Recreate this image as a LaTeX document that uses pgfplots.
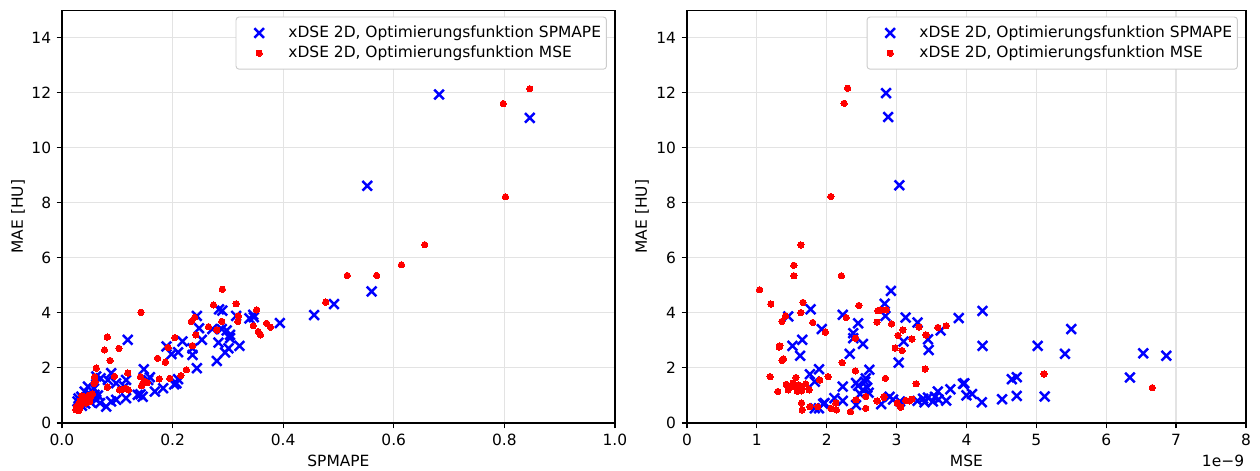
\documentclass[border=0pt]{standalone}
\usepackage{pgfplots}
\pgfplotsset{compat=1.18}
\usepackage{fontspec}
\setmainfont{DejaVu Sans}
\pgfplotsset{
  myaxis/.style={
    scale only axis,
    height=267pt,
    ymin=0, ymax=15,
    ytick={0,2,...,14},
    grid=major,
    major grid style={line width=0.8pt, draw=black!11},
    axis line style={line width=1pt},
    tick align=outside,
    tick pos=left,
    major tick length=3.5pt,
    major tick style={line width=0.8pt, black},
    /pgf/number format/assume math mode=true,
    tick label style={font=\fontsize{10}{12}\selectfont},
    label style={font=\fontsize{10}{12}\selectfont},
    legend style={at={(1,1)}, anchor=north east, xshift=-5.2pt, yshift=-4pt,
      draw=black!20, line width=0.6pt, rounded corners=2pt,
      inner xsep=1.5pt, inner ysep=3.8pt, row sep=0pt,
      font=\fontsize{10}{12}\selectfont,
      cells={anchor=west, inner ysep=1.6pt}},
    legend image code/.code={\path (0pt,0pt) (28.8pt,0pt); \draw[##1] plot coordinates {(12.7pt,0pt)};},
  },
  bx/.style={only marks, mark=x, mark size=4.4pt, draw=blue, line width=1.6pt},
  rd/.style={only marks, mark=*, mark size=2.05pt, draw=red, fill=red, line width=0pt},
}
\begin{document}
\begin{tikzpicture}[font=\fontsize{10}{12}\selectfont]
\begin{axis}[myaxis, at={(40.1pt,31.1pt)}, anchor=south west, width=357.9pt,
  xmin=0, xmax=1, xtick={0,0.2,...,1.0},
  xticklabel style={/pgf/number format/.cd, fixed, fixed zerofill, precision=1},
  xlabel={SPMAPE}, ylabel={MAE [HU]},
  x label style={at={(axis description cs:0.5,-0.092)}, anchor=center},
  y label style={at={(axis description cs:-0.0796,0.5)}, anchor=center}]
\addplot[bx] coordinates {
(0.682,11.94) (0.846,11.09) (0.552,8.62) (0.560,4.78) (0.492,4.32) (0.456,3.92)
(0.394,3.63) (0.347,3.84) (0.339,3.80) (0.346,3.93) (0.315,3.89) (0.321,2.80)
(0.304,3.20) (0.304,3.08) (0.298,3.36) (0.289,3.41) (0.283,2.92) (0.301,2.71)
(0.295,2.56) (0.280,2.25) (0.284,4.13) (0.290,4.08) (0.272,3.41) (0.253,3.02)
(0.248,3.44) (0.244,3.89) (0.244,1.99) (0.236,2.71) (0.236,2.47) (0.218,2.96)
(0.210,2.57) (0.198,2.50) (0.189,2.78) (0.210,1.59) (0.207,1.44) (0.203,1.40)
(0.183,1.26) (0.168,1.14) (0.159,1.66) (0.148,1.95) (0.146,0.95) (0.137,1.02)
(0.156,1.56) (0.119,3.02) (0.116,1.56) (0.113,1.32) (0.116,0.90) (0.098,1.44)
(0.098,0.84) (0.089,1.81) (0.089,0.78) (0.083,1.56) (0.080,0.59) (0.062,1.69)
(0.062,0.84) (0.059,1.02) (0.058,1.25) (0.047,1.32) (0.041,1.14) (0.035,0.95)
(0.030,0.89) (0.032,0.71) (0.038,0.80) (0.044,0.92) (0.050,1.05) (0.052,0.75)
(0.036,0.62) (0.042,0.70) (0.055,0.95) (0.028,0.78) (0.065,1.00) (0.070,1.62)
(0.142,1.04) (0.069,0.72)
};
\addlegendentry{xDSE 2D, Optimierungsfunktion SPMAPE}
\addplot[rd] coordinates {
(0.846,12.15) (0.798,11.61) (0.802,8.22) (0.656,6.48) (0.614,5.75) (0.516,5.36)
(0.569,5.36) (0.477,4.39) (0.290,4.86) (0.274,4.29) (0.315,4.33) (0.352,4.11)
(0.319,3.89) (0.318,3.69) (0.289,3.69) (0.240,3.84) (0.234,3.69) (0.265,3.50)
(0.280,3.38) (0.346,3.53) (0.355,3.32) (0.359,3.20) (0.370,3.62) (0.377,3.48)
(0.242,3.20) (0.236,2.81) (0.204,3.10) (0.192,2.74) (0.173,2.35) (0.187,2.21)
(0.225,1.93) (0.215,1.72) (0.195,1.62) (0.176,1.60) (0.143,4.02) (0.082,3.12)
(0.077,2.65) (0.103,2.71) (0.087,2.27) (0.062,1.99) (0.059,1.68) (0.060,1.50)
(0.058,1.44) (0.095,1.69) (0.119,1.81) (0.082,1.30) (0.104,1.20) (0.110,1.22)
(0.115,1.25) (0.120,1.20) (0.142,1.68) (0.146,1.44) (0.150,1.50) (0.144,1.35)
(0.154,1.46) (0.025,0.48) (0.027,0.55) (0.028,0.62) (0.030,0.70) (0.032,0.52)
(0.033,0.80) (0.035,0.66) (0.037,0.88) (0.038,0.74) (0.040,0.95) (0.042,0.82)
(0.044,0.72) (0.046,0.90) (0.048,1.00) (0.050,0.78) (0.052,0.95) (0.055,1.05)
(0.026,0.60) (0.030,0.45) (0.036,0.98)
};
\addlegendentry{xDSE 2D, Optimierungsfunktion MSE}
\end{axis}
\begin{axis}[myaxis, name=R, at={(444.6pt,31.1pt)}, anchor=south west, width=361.8pt,
  xmin=0, xmax=8, xtick={0,1,...,8},
  xlabel={MSE}, ylabel={MAE [HU]},
  x label style={at={(axis description cs:0.5,-0.092)}, anchor=center},
  y label style={at={(axis description cs:-0.0805,0.5)}, anchor=center}]
\addplot[bx] coordinates {
(2.85,11.99) (2.88,11.12) (3.04,8.64) (2.92,4.80) (2.83,4.33) (2.84,3.89)
(3.13,3.83) (3.30,3.65) (3.89,3.81) (4.23,4.07) (4.23,2.80) (5.02,2.80)
(5.50,3.41) (5.41,2.51) (6.53,2.53) (6.86,2.44) (6.34,1.65) (4.65,1.59)
(4.72,1.66) (3.95,1.42) (4.00,1.00) (4.08,1.05) (4.22,0.75) (4.51,0.86)
(4.72,0.98) (5.12,0.96) (3.63,3.36) (3.45,3.04) (3.46,2.65) (3.10,2.96)
(3.03,2.19) (3.97,1.44) (3.77,1.22) (3.59,1.14) (3.71,0.81) (3.30,0.80)
(3.38,0.88) (3.45,0.92) (3.52,0.78) (3.55,0.95) (3.40,0.75) (3.60,0.85)
(2.95,0.85) (3.05,0.78) (2.90,0.95) (1.45,3.87) (1.77,4.13) (1.93,3.41)
(2.23,3.93) (2.45,3.62) (2.38,3.26) (2.38,3.08) (2.52,2.87) (2.33,2.51)
(1.65,3.02) (1.51,2.80) (1.62,2.44) (1.76,1.77) (1.89,1.95) (1.83,1.50)
(2.61,1.93) (2.23,1.32) (2.11,0.90) (2.23,0.80) (1.97,0.72) (1.83,0.53)
(1.89,0.53) (2.42,0.65) (2.78,0.68) (2.45,1.35) (2.52,1.20) (2.55,1.50)
(2.60,1.10) (2.48,1.05) (2.58,1.28) (2.42,1.45) (2.56,1.62) (1.95,0.69)
};
\addlegendentry{xDSE 2D, Optimierungsfunktion SPMAPE}
\addplot[rd] coordinates {
(2.30,12.17) (2.25,11.62) (2.06,8.23) (1.63,6.47) (1.53,5.73) (1.53,5.35)
(2.21,5.35) (1.04,4.84) (1.20,4.32) (1.66,4.38) (1.63,4.01) (1.41,3.89)
(1.36,3.69) (1.80,3.65) (1.98,3.30) (2.28,3.83) (2.46,4.27) (2.73,4.08)
(2.77,4.10) (2.72,3.66) (2.41,3.08) (1.33,2.80) (1.32,2.76) (1.38,2.33)
(1.36,2.27) (2.22,2.19) (1.19,1.68) (1.56,1.65) (2.02,1.68) (2.41,1.89)
(2.84,1.62) (1.42,1.40) (1.48,1.35) (1.52,1.45) (1.55,1.30) (1.60,1.38)
(1.65,1.25) (1.70,1.42) (1.75,1.20) (1.45,1.20) (1.58,1.15) (1.30,1.14)
(1.64,1.16) (1.64,0.72) (1.65,0.47) (1.76,0.59) (1.87,0.59) (1.90,1.56)
(2.06,0.53) (2.14,0.47) (2.13,0.72) (2.34,0.41) (2.42,0.84) (2.56,0.96)
(2.56,0.53) (2.72,0.80) (2.82,0.96) (2.85,4.11) (2.93,3.60) (3.09,3.38)
(3.02,3.18) (3.22,3.05) (3.32,3.48) (3.42,3.20) (3.59,3.47) (3.71,3.53)
(2.98,2.72) (3.08,2.63) (3.41,1.96) (3.28,1.42) (2.82,0.93) (3.13,0.82)
(3.18,0.80) (3.22,0.86) (3.01,0.72) (3.06,0.57) (5.11,1.78) (6.66,1.28)
};
\addlegendentry{xDSE 2D, Optimierungsfunktion MSE}
\end{axis}
\node[anchor=east, inner sep=1pt, font=\fontsize{10}{12}\selectfont] at ([yshift=-24.6pt]R.south east) {1e−9};
\pgfresetboundingbox
\useasboundingbox (0pt,0pt) rectangle (815.5pt,304.8pt);
\end{tikzpicture}
\end{document}
